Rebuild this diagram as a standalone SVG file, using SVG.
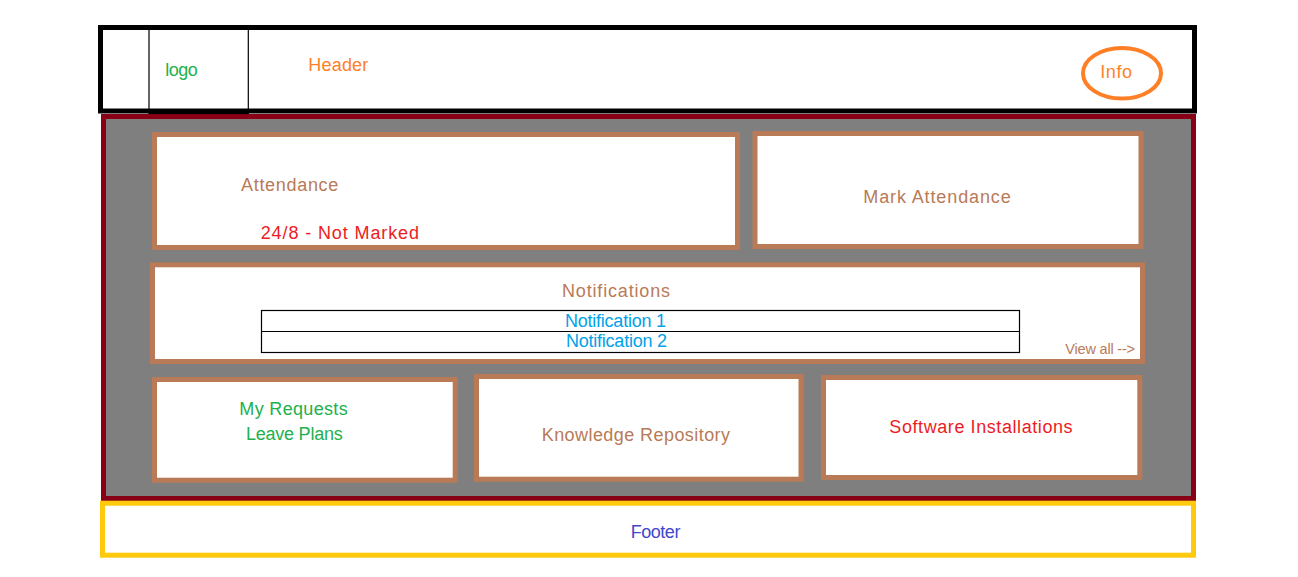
<svg xmlns="http://www.w3.org/2000/svg" width="1298" height="577" viewBox="0 0 1298 577">
<style>
text{font-family:"Liberation Sans",Arial,sans-serif;font-size:18px}
.panel{fill:#fff;stroke:#B97A57;stroke-width:5}
.brown{fill:#B97A57}
.orange{fill:#FF7F27}
.green{fill:#22B14C}
.red{fill:#ED1C24}
.cyan{fill:#00A2E8}
.blue{fill:#3F48CC}
.thin{fill:none;stroke:#000;stroke-width:1.2}
</style>
<rect width="1298" height="577" fill="#fff"/>
<g id="main">
<rect x="103.5" y="116.5" width="1090" height="382" fill="#7F7F7F" stroke="#880015" stroke-width="5"/>
</g>
<g id="header">
<rect x="100.5" y="27.5" width="1094" height="83.5" fill="#fff" stroke="#000" stroke-width="5"/>
<text class="orange" x="308.3" y="70.7" textLength="60" lengthAdjust="spacing">Header</text>
</g>
<g id="logo">
<rect x="149" y="28" width="99.3" height="85.5" class="thin"/>
<text class="green" x="165.3" y="76" textLength="32.4" lengthAdjust="spacing">logo</text>
</g>
<g id="info">
<ellipse cx="1122" cy="73.3" rx="39" ry="25.3" fill="none" stroke="#FF7F27" stroke-width="4"/>
<text class="orange" x="1100.3" y="77.7" textLength="31.7" lengthAdjust="spacing">Info</text>
</g>
<g id="attendance">
<rect class="panel" x="154.5" y="134.5" width="583" height="113"/>
<text class="brown" x="241" y="190.7" textLength="97.3" lengthAdjust="spacing">Attendance</text>
<text class="red" x="260.7" y="239.3" textLength="158.3" lengthAdjust="spacing">24/8 - Not Marked</text>
</g>
<g id="mark-attendance">
<rect class="panel" x="755" y="133.5" width="386" height="113"/>
<text class="brown" x="863.3" y="202.7" textLength="147.4" lengthAdjust="spacing">Mark Attendance</text>
</g>
<g id="notifications">
<rect class="panel" x="152.5" y="264.8" width="990" height="96.7"/>
<text class="brown" x="562" y="297.3" textLength="108" lengthAdjust="spacing">Notifications</text>
<rect class="thin" x="261.5" y="310.5" width="758" height="42"/>
<line x1="261.5" y1="331.5" x2="1019.5" y2="331.5" stroke="#000" stroke-width="1.2"/>
<text class="cyan" x="565" y="326.7" textLength="101" lengthAdjust="spacing">Notification 1</text>
<text class="cyan" x="566" y="346.7" textLength="101" lengthAdjust="spacing">Notification 2</text>
<text class="brown" x="1065.3" y="354" style="font-size:14.5px" textLength="69.7" lengthAdjust="spacing">View all --&gt;</text>
</g>
<g id="my-requests">
<rect class="panel" x="154.5" y="379.5" width="300.7" height="100.7"/>
<text class="green" x="239.3" y="415" textLength="108.4" lengthAdjust="spacing">My Requests</text>
<text class="green" x="246" y="440.3" textLength="96.7" lengthAdjust="spacing">Leave Plans</text>
</g>
<g id="knowledge">
<rect class="panel" x="476.5" y="376.5" width="324.5" height="102.7"/>
<text class="brown" x="541.7" y="440.7" textLength="188.3" lengthAdjust="spacing">Knowledge Repository</text>
</g>
<g id="software">
<rect class="panel" x="823.5" y="377.5" width="316.3" height="100"/>
<text class="red" x="889.3" y="432.7" textLength="183.3" lengthAdjust="spacing">Software Installations</text>
</g>
<g id="footer">
<rect x="102.5" y="503.2" width="1091" height="52" fill="#fff" stroke="#FFC90E" stroke-width="5"/>
<text class="blue" x="630.7" y="538" textLength="49.7" lengthAdjust="spacing">Footer</text>
</g>
<g id="connectors"></g>
</svg>
